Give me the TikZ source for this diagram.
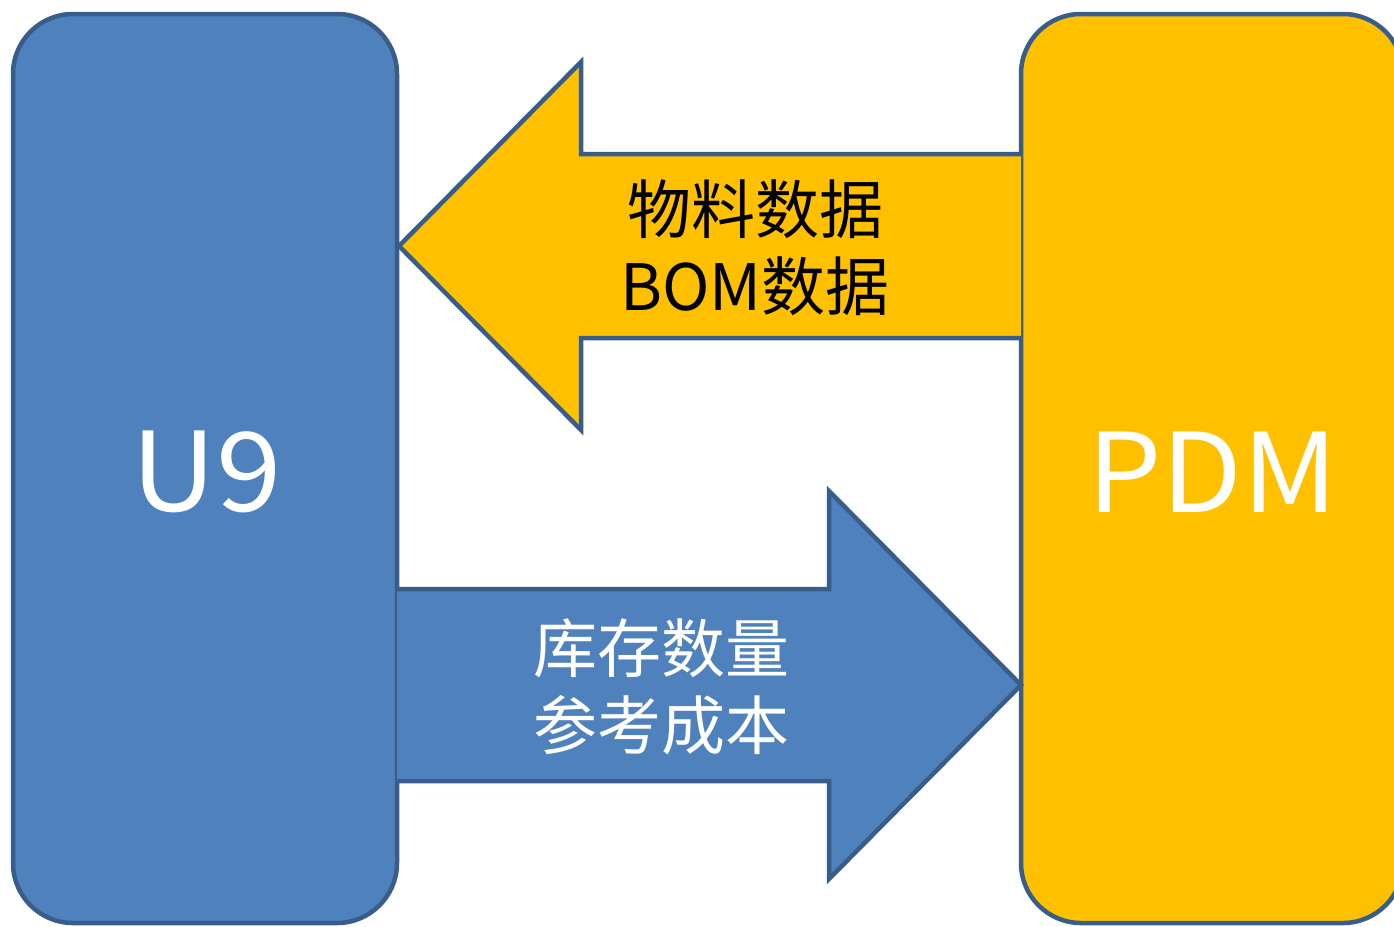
\documentclass[tikz,border=0pt]{standalone}
\usepackage{fontspec}
\newfontfamily\cjk{Noto Sans CJK SC}
\newfontfamily\syswide[FakeStretch=1.07]{Noto Sans CJK SC}
\definecolor{boxblue}{HTML}{4F81BD}
\definecolor{edgeblue}{HTML}{385D8A}
\definecolor{boxgold}{HTML}{FFC000}
\tikzset{
  sysbox/.style={draw=edgeblue, line width=4.5pt, rounded corners=60pt, inner sep=0pt},
  flow/.style={draw=edgeblue, line width=4.5pt, line join=miter},
  syslabel/.style={text=white, font=\syswide\fontsize{110}{120}\selectfont, inner sep=0pt},
  flowlabel/.style={font=\cjk\fontsize{64}{77}\selectfont, align=center, inner sep=0pt},
}
\begin{document}
\begin{tikzpicture}[x=1pt,y=-1pt]
\useasboundingbox (0,0) rectangle (1394,926);
% system boxes
\draw[sysbox, fill=boxblue] (13,14) rectangle (397,923);
\draw[sysbox, fill=boxgold] (1021,14) rectangle (1403,923);
% top arrow (PDM -> U9)
\draw[flow, fill=boxgold] (1021,154) -- (581,154) -- (581,62) -- (399,246) -- (581,430) -- (581,338) -- (1021,338);
% bottom arrow (U9 -> PDM)
\draw[flow, fill=boxblue] (397,589) -- (829,589) -- (829,491) -- (1021,685) -- (829,879) -- (829,781) -- (397,781);
% labels
\node[syslabel] (u9) at (207,472) {U9};
\node[syslabel] (pdm) at (1213,472) {PDM};
\node[flowlabel, text=black] (top) at (755,248) {物料数据\\BOM数据};
\node[flowlabel, text=white] (bot) at (661,687) {库存数量\\参考成本};
\end{tikzpicture}
\end{document}
